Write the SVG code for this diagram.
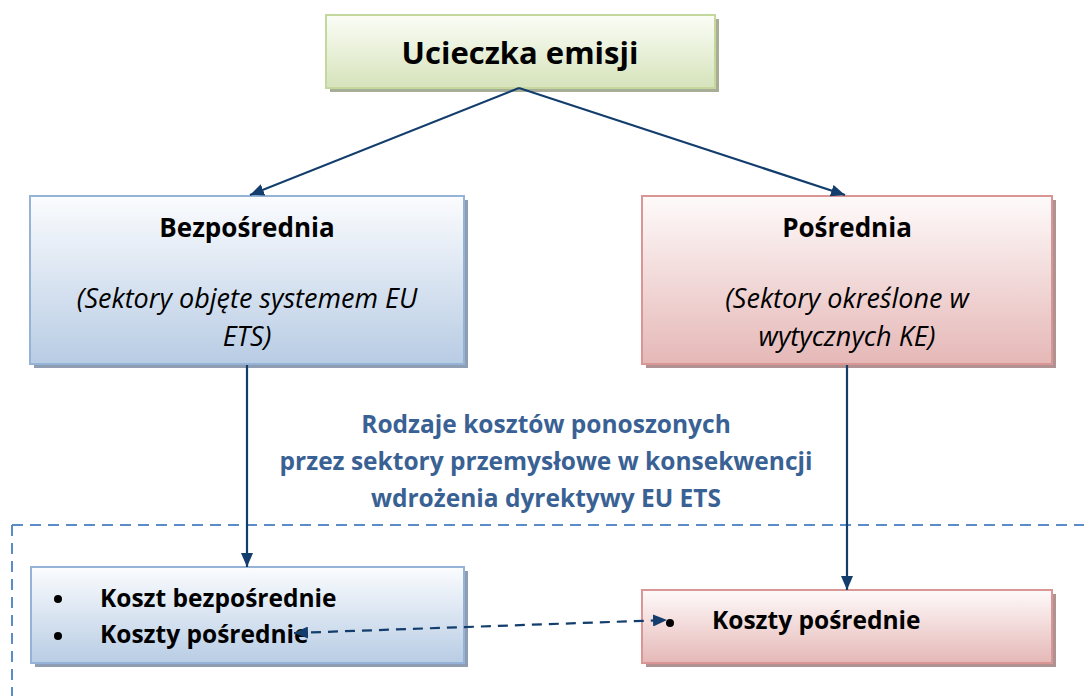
<svg xmlns="http://www.w3.org/2000/svg" width="1084" height="696" viewBox="0 0 1084 696">
<defs>
<linearGradient id="gGreen" x1="0" y1="0" x2="0" y2="1"><stop offset="0" stop-color="#fbfdf7"/><stop offset="1" stop-color="#d6e3bb"/></linearGradient>
<linearGradient id="gBlue" x1="0" y1="0" x2="0" y2="1"><stop offset="0" stop-color="#fbfcfe"/><stop offset="1" stop-color="#b8cce4"/></linearGradient>
<linearGradient id="gRed" x1="0" y1="0" x2="0" y2="1"><stop offset="0" stop-color="#fefafa"/><stop offset="1" stop-color="#e5b8b7"/></linearGradient>
<marker id="ah" viewBox="0 0 14 12" refX="14" refY="6" markerWidth="14" markerHeight="12" markerUnits="userSpaceOnUse" orient="auto"><path d="M0,0 L14,6 L0,12 Z" fill="#123d6d"/></marker>
<marker id="ahs" viewBox="0 0 14 12" refX="0" refY="6" markerWidth="14" markerHeight="12" markerUnits="userSpaceOnUse" orient="auto"><path d="M14,0 L0,6 L14,12 Z" fill="#123d6d"/></marker>
</defs>
<style>
.t{font-family:"Open Sans","Liberation Sans",sans-serif;fill:#000;text-anchor:middle}
.b{font-weight:bold}
.i{font-style:italic}
.s{text-anchor:start}
.blue{fill:#3a6194;font-weight:bold}
.con{stroke:#123d6d;stroke-width:2.2;fill:none}
</style>
<rect width="1084" height="696" fill="#fff"/>
<g id="frame"><path d="M12,525 H1084 M12,525 V696" stroke="#5b8cc8" stroke-width="2" stroke-dasharray="11 7" fill="none"/></g>
<g id="n-top">
<rect x="330" y="19" width="389" height="73" fill="#a8ad98"/>
<rect x="326" y="15" width="389" height="73" fill="url(#gGreen)" stroke="#c4d79c" stroke-width="2"/>
<text class="t b" x="520" y="64" font-size="31">Ucieczka emisji</text>
</g>
<g id="n-bez">
<rect x="34" y="200" width="434" height="168" fill="#8f9db2"/>
<rect x="30" y="196" width="434" height="168" fill="url(#gBlue)" stroke="#95b3d7" stroke-width="2"/>
<text class="t b" x="247" y="237" font-size="26">Bezpośrednia</text>
<text class="t i" x="247" y="308" font-size="27">(Sektory objęte systemem EU</text>
<text class="t i" x="247" y="346" font-size="27">ETS)</text>
</g>
<g id="n-pos">
<rect x="646" y="200" width="410" height="168" fill="#b09292"/>
<rect x="642" y="196" width="410" height="168" fill="url(#gRed)" stroke="#d99694" stroke-width="2"/>
<text class="t b" x="847" y="237" font-size="26">Pośrednia</text>
<text class="t i" x="847" y="308" font-size="27">(Sektory określone w</text>
<text class="t i" x="847" y="346" font-size="27">wytycznych KE)</text>
</g>
<g id="label">
<text class="t blue" x="546" y="433" font-size="24.5">Rodzaje kosztów ponoszonych</text>
<text class="t blue" x="546" y="470" font-size="24.5">przez sektory przemysłowe w konsekwencji</text>
<text class="t blue" x="546" y="507" font-size="24.5">wdrożenia dyrektywy EU ETS</text>
</g>
<g id="n-koszty-left">
<rect x="35" y="571" width="433" height="96" fill="#8f9db2"/>
<rect x="31" y="567" width="433" height="96" fill="url(#gBlue)" stroke="#95b3d7" stroke-width="2"/>
<circle cx="58" cy="599" r="4" fill="#000"/>
<circle cx="58" cy="636" r="4" fill="#000"/>
<text class="t b s" x="100" y="607" font-size="24.5">Koszt bezpośrednie</text>
<text class="t b s" x="100" y="643" font-size="24.5">Koszty pośrednie</text>
</g>
<g id="n-koszty-right">
<rect x="646" y="594" width="410" height="73" fill="#b09292"/>
<rect x="642" y="590" width="410" height="73" fill="url(#gRed)" stroke="#d99694" stroke-width="2"/>
<circle cx="670" cy="623" r="4" fill="#000"/>
<text class="t b s" x="712" y="629" font-size="24.5">Koszty pośrednie</text>
</g>
<g id="connectors">
<path class="con" d="M519,88 L250,195" marker-end="url(#ah)"/>
<path class="con" d="M519,88 L845,195" marker-end="url(#ah)"/>
<path class="con" d="M247,365 V567" marker-end="url(#ah)"/>
<path class="con" d="M847,365 V590" marker-end="url(#ah)"/>
<path class="con" d="M294,633 L667,620" stroke-dasharray="10 7" marker-start="url(#ahs)" marker-end="url(#ah)"/>
</g>
</svg>
